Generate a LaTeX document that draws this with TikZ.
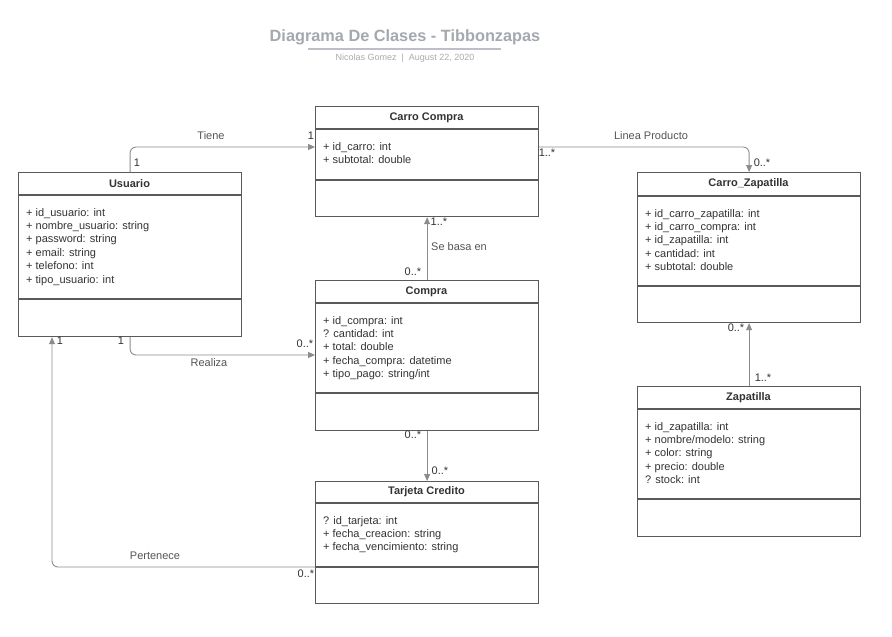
\documentclass[tikz,border=0pt]{standalone}
\usepackage{fontspec}
\setmainfont{Liberation Sans}
\usetikzlibrary{arrows.meta,calc}
\definecolor{boxc}{HTML}{5A5A5A}
\definecolor{linec}{HTML}{8C8C8C}
\definecolor{txtc}{HTML}{333333}
\definecolor{lblc}{HTML}{555555}
\definecolor{titc}{HTML}{A4A8B0}
\definecolor{rulec}{HTML}{BCBFC5}
\definecolor{subc}{HTML}{ABABAB}
\newcommand\UMLClass[8]{%
  \node[classbox, minimum height={#6-#3}] (#1) at (#2,#3) {};
  \draw[boxc, line width=1.2pt] (#2,#4) -- ++(223,0) (#2,#5) -- ++(223,0);
  \node[cname] (#1-t) at ({#2+111.5},{(#3+#4)/2}) {#7};
  \foreach \attrline [count=\i] in {#8}
    \node[attr] (#1-a\i) at ({#2+8},{#4+21+13.4*(\i-1)}) {\attrline};
}
\begin{document}
\begin{tikzpicture}[x=1pt,y=-1pt,
  classbox/.style={draw=boxc, line width=1.2pt, anchor=north west, inner sep=0pt,
    minimum width=223pt, fill=white},
  cname/.style={font=\fontsize{11}{13}\selectfont\bfseries, text=txtc, inner sep=0pt},
  attr/.style={font=\fontsize{11}{13}\selectfont, text=txtc, anchor=base west, inner sep=0pt},
  conn/.style={draw=linec, line width=0.9pt, rounded corners=6pt,
    -{Triangle[length=7pt,width=6pt]}},
  mult/.style={font=\fontsize{11}{13}\selectfont, text=txtc, inner sep=0pt},
  rel/.style={font=\fontsize{11}{13}\selectfont, text=lblc, inner sep=0pt}]
\useasboundingbox (0,0) rectangle (892,637);
\fill[white] (0,0) rectangle (892,637);

% title
\node[font=\fontsize{16.3}{19}\selectfont\bfseries, text=titc, inner sep=0pt] (title) at (405,37) {Diagrama De Clases - Tibbonzapas};
\draw[rulec, line width=1.8pt] (308,49) -- (501,49);
\node[font=\fontsize{9}{11}\selectfont, text=subc, inner sep=0pt] (sub) at (405,58) {Nicolas Gomez \ |\ \ August 22, 2020};

% classes
\UMLClass{us}{18}{172}{195}{299}{336}{Usuario}{+ id\_usuario: int,+ nombre\_usuario: string,+ password: string,+ email: string,+ telefono: int,+ tipo\_usuario: int}
\UMLClass{cc}{315}{106}{129}{180}{216}{Carro Compra}{+ id\_carro: int,+ subtotal: double}
\UMLClass{cz}{637}{172}{196}{286}{322}{Carro\_Zapatilla}{+ id\_carro\_zapatilla: int,+ id\_carro\_compra: int,+ id\_zapatilla: int,+ cantidad: int,+ subtotal: double}
\UMLClass{co}{315}{280}{303}{393}{430}{Compra}{+ id\_compra: int,? cantidad: int,+ total: double,+ fecha\_compra: datetime,+ tipo\_pago: string/int}
\UMLClass{za}{637}{386}{409}{499}{536}{Zapatilla}{+ id\_zapatilla: int,+ nombre/modelo: string,+ color: string,+ precio: double,? stock: int}
\UMLClass{tc}{315}{481}{503}{567}{603}{Tarjeta Credito}{? id\_tarjeta: int,+ fecha\_creacion: string,+ fecha\_vencimiento: string}

% connectors
\draw[conn] (us.north) |- ($(cc.north west)+(0,41)$);
\draw[conn] ($(cc.north east)+(0,41)$) -| (cz.north);
\draw[conn] (co.north) -- (cc.south);
\draw[conn] (us.south) |- ($(co.north west)+(0,75)$);
\draw[conn] (co.south) -- (tc.north);
\draw[conn] ($(tc.north west)+(0,86)$) -| ($(us.south west)+(34,0)$);
\draw[conn] (za.north) -- (cz.south);

% labels
\node[rel] (l1) at (211,136) {Tiene};
\node[mult] (m1) at (137,163) {1};
\node[mult] (m2) at (311,136) {1};
\node[rel] (l2) at (651,136) {Linea Producto};
\node[mult] (m3) at (547,153) {1..*};
\node[mult] (m4) at (762,163) {0..*};
\node[rel] (l3) at (459,247) {Se basa en};
\node[mult] (m5) at (439,222) {1..*};
\node[mult] (m6) at (413,272) {0..*};
\node[rel] (l4) at (209,363) {Realiza};
\node[mult] (m7) at (121,341) {1};
\node[mult] (m8) at (305,344) {0..*};
\node[mult] (m9) at (60,341) {1};
\node[mult] (m10) at (413,435) {0..*};
\node[mult] (m11) at (440,471) {0..*};
\node[rel] (l5) at (155,556) {Pertenece};
\node[mult] (m12) at (306,574) {0..*};
\node[mult] (m13) at (736,328) {0..*};
\node[mult] (m14) at (763,378) {1..*};
\end{tikzpicture}
\end{document}
